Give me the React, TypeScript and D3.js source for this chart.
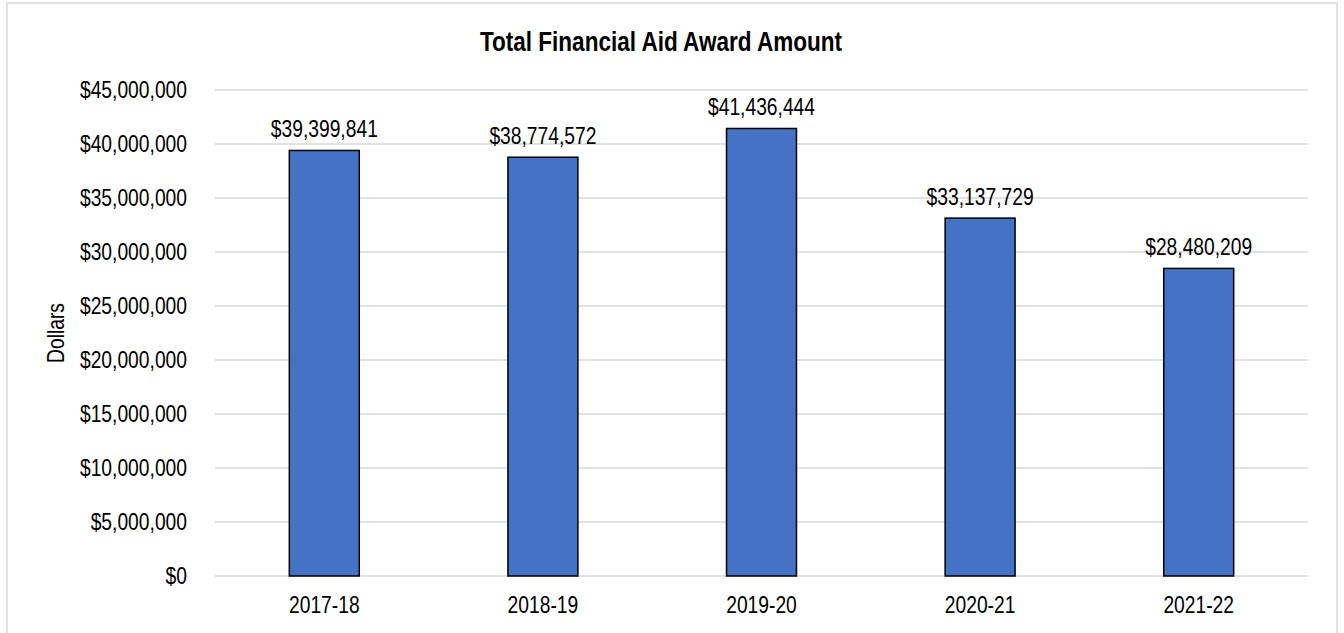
import React from "react";
import * as d3 from "d3";

const categories = ["2017-18", "2018-19", "2019-20", "2020-21", "2021-22"];
const values = [39399841, 38774572, 41436444, 33137729, 28480209];
const yTicks = [0, 5000000, 10000000, 15000000, 20000000, 25000000, 30000000, 35000000, 40000000, 45000000];
const title = "Total Financial Aid Award Amount";
const yTitle = "Dollars";

const W = 1344;
const H = 633;
const FONT = "'Liberation Sans', Arial, sans-serif";
const NARROW = 0.82;

type NTProps = {
  x: number;
  y: number;
  anchor?: "start" | "middle" | "end";
  size?: number;
  bold?: boolean;
  rotate?: number;
  dy?: string;
  children: React.ReactNode;
};

function NText({ x, y, anchor = "middle", size = 23.5, bold = false, rotate = 0, dy, children }: NTProps) {
  return (
    <text
      transform={`translate(${x},${y}) rotate(${rotate}) scale(${NARROW},1)`}
      textAnchor={anchor}
      dy={dy}
      fontFamily={FONT}
      fontSize={size}
      fontWeight={bold ? "bold" : "normal"}
      fill="#000"
    >
      {children}
    </text>
  );
}

export default function App() {
  const left = 215, right = 1308, top = 90, bottom = 576;
  const x = d3.scaleBand<string>().domain(categories).range([left, right]).paddingInner(0.68).paddingOuter(0.34);
  const y = d3.scaleLinear().domain([0, 45000000]).range([bottom, top]);
  const fmt = (v: number) => "$" + d3.format(",")(v);

  return (
    <svg width={W} height={H} style={{ position: "absolute", left: 0, top: 0, background: "#fff" }}>
      <rect x={7} y={3} width={1330} height={H + 10} fill="#fff" stroke="#d9d9d9" strokeWidth={1.5} />
      <NText x={661} y={51} size={27.5} bold>
        {title}
      </NText>
      {yTicks.map((t) => (
        <g key={t}>
          <line x1={left} x2={right} y1={y(t)} y2={y(t)} stroke="#d9d9d9" strokeWidth={1.5} />
          <NText x={187} y={y(t)} dy="0.35em" anchor="end">
            {fmt(t)}
          </NText>
        </g>
      ))}
      <NText x={56} y={(top + bottom) / 2} rotate={-90} dy="0.35em">
        {yTitle}
      </NText>
      {categories.map((c, i) => {
        const bx = x(c)!;
        const bw = x.bandwidth();
        const by = y(values[i]);
        return (
          <g key={c}>
            <rect x={bx} y={by} width={bw} height={bottom - by} fill="#4472C4" stroke="#000" strokeWidth={1.5} />
            <NText x={bx + bw / 2} y={by - 13}>
              {fmt(values[i])}
            </NText>
            <NText x={bx + bw / 2} y={613}>
              {c}
            </NText>
          </g>
        );
      })}
    </svg>
  );
}
